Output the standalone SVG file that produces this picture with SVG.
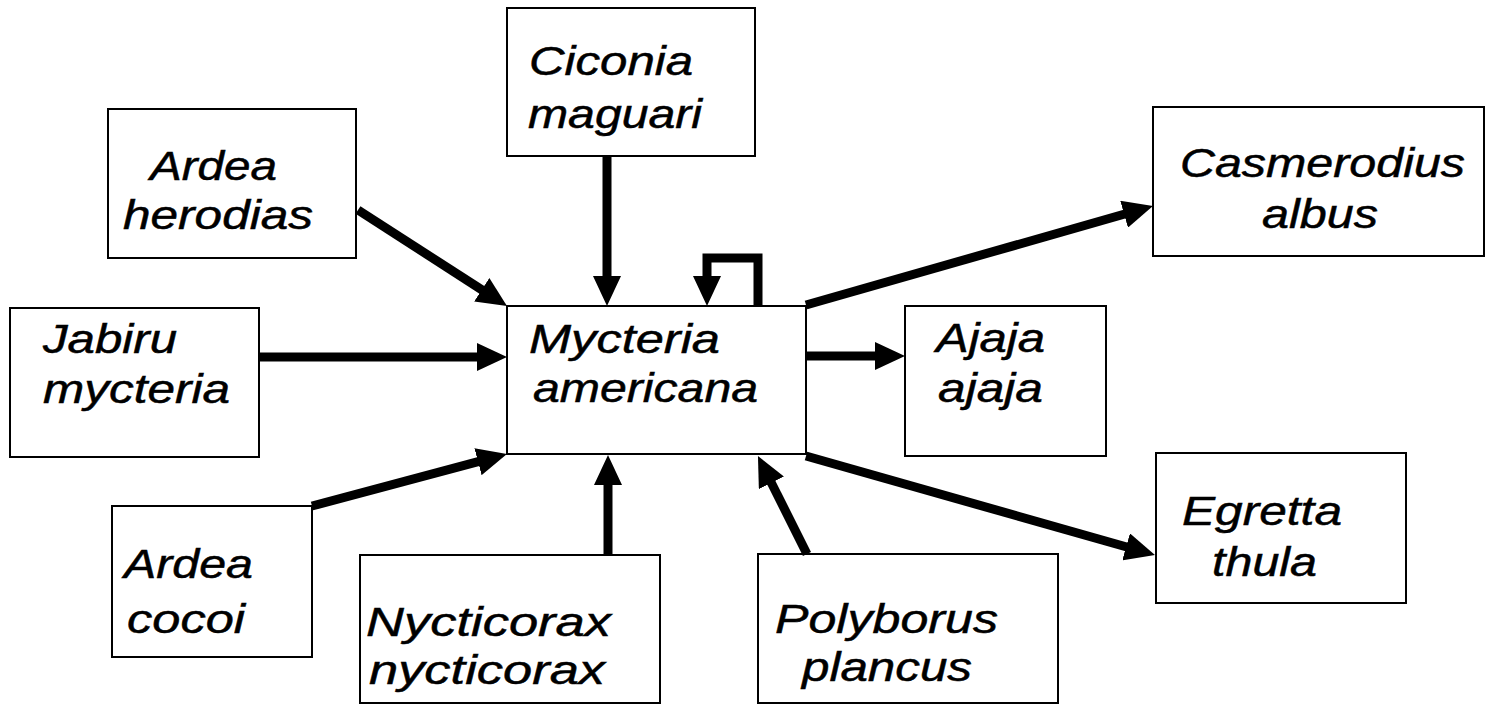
<svg xmlns="http://www.w3.org/2000/svg" width="1486" height="705" viewBox="0 0 1486 705">
<style>
.box{fill:#fff;stroke:#000;stroke-width:2}
.lbl{font-family:"Liberation Sans",Arial,sans-serif;font-style:italic;font-size:41px;fill:#000;stroke:#000;stroke-width:0.5}
.edge{fill:none;stroke:#000;stroke-width:9;stroke-linecap:butt;stroke-linejoin:miter}
</style>
<defs>
<marker id="ah" viewBox="0 0 30 28" refX="8" refY="14" markerWidth="30" markerHeight="28" markerUnits="userSpaceOnUse" orient="auto">
<path d="M0,0 L30,14 L0,28 z" fill="#000"/>
</marker>
</defs>
<rect width="1486" height="705" fill="#fff"/>
<g id="ciconia"><rect class="box" x="507" y="8" width="248" height="148"/>
<text class="lbl" x="529" y="75" textLength="164" lengthAdjust="spacingAndGlyphs">Ciconia</text>
<text class="lbl" x="528" y="128" textLength="174" lengthAdjust="spacingAndGlyphs">maguari</text></g>
<g id="ardea-herodias"><rect class="box" x="108" y="109" width="248" height="149"/>
<text class="lbl" x="150" y="180" textLength="127" lengthAdjust="spacingAndGlyphs">Ardea</text>
<text class="lbl" x="123" y="229" textLength="190" lengthAdjust="spacingAndGlyphs">herodias</text></g>
<g id="jabiru"><rect class="box" x="10" y="308" width="249" height="149"/>
<text class="lbl" x="43" y="353" textLength="134" lengthAdjust="spacingAndGlyphs">Jabiru</text>
<text class="lbl" x="43" y="403" textLength="187" lengthAdjust="spacingAndGlyphs">mycteria</text></g>
<g id="mycteria"><rect class="box" x="507" y="306" width="299" height="148"/>
<text class="lbl" x="529" y="353" textLength="191" lengthAdjust="spacingAndGlyphs">Mycteria</text>
<text class="lbl" x="533" y="402" textLength="225" lengthAdjust="spacingAndGlyphs">americana</text></g>
<g id="casmerodius"><rect class="box" x="1153" y="107" width="331" height="149"/>
<text class="lbl" x="1180" y="177" textLength="285" lengthAdjust="spacingAndGlyphs">Casmerodius</text>
<text class="lbl" x="1262" y="228" textLength="116" lengthAdjust="spacingAndGlyphs">albus</text></g>
<g id="ajaja"><rect class="box" x="905" y="306" width="201" height="150"/>
<text class="lbl" x="936" y="352" textLength="109" lengthAdjust="spacingAndGlyphs">Ajaja</text>
<text class="lbl" x="938" y="402" textLength="105" lengthAdjust="spacingAndGlyphs">ajaja</text></g>
<g id="egretta"><rect class="box" x="1156" y="453" width="250" height="150"/>
<text class="lbl" x="1182" y="525" textLength="160" lengthAdjust="spacingAndGlyphs">Egretta</text>
<text class="lbl" x="1212" y="576" textLength="105" lengthAdjust="spacingAndGlyphs">thula</text></g>
<g id="ardea-cocoi"><rect class="box" x="112" y="506" width="200" height="151"/>
<text class="lbl" x="124" y="578" textLength="129" lengthAdjust="spacingAndGlyphs">Ardea</text>
<text class="lbl" x="127" y="633" textLength="118" lengthAdjust="spacingAndGlyphs">cocoi</text></g>
<g id="nycticorax"><rect class="box" x="360" y="555" width="300" height="148"/>
<text class="lbl" x="366" y="636" textLength="245" lengthAdjust="spacingAndGlyphs">Nycticorax</text>
<text class="lbl" x="369" y="684" textLength="236" lengthAdjust="spacingAndGlyphs">nycticorax</text></g>
<g id="polyborus"><rect class="box" x="758" y="554" width="300" height="149"/>
<text class="lbl" x="775" y="633" textLength="223" lengthAdjust="spacingAndGlyphs">Polyborus</text>
<text class="lbl" x="802" y="681" textLength="170" lengthAdjust="spacingAndGlyphs">plancus</text></g>
<g id="connectors">
<path class="edge" d="M607,156 V284" marker-end="url(#ah)"/>
<path class="edge" d="M758,306 V258 H707 V284" marker-end="url(#ah)"/>
<path class="edge" d="M358,210 L488.5,294.1" marker-end="url(#ah)"/>
<path class="edge" d="M259,357 H485" marker-end="url(#ah)"/>
<path class="edge" d="M312,506 L485.7,459.6" marker-end="url(#ah)"/>
<path class="edge" stroke-width="8" d="M608,555 V477" marker-end="url(#ah)"/>
<path class="edge" stroke-width="8" d="M807,554 L767.8,475.7" marker-end="url(#ah)"/>
<path class="edge" d="M806,456 L1133.8,549" marker-end="url(#ah)"/>
<path class="edge" d="M806,305 L1131.8,212" marker-end="url(#ah)"/>
<path class="edge" d="M806,356 H883" marker-end="url(#ah)"/>
</g>
</svg>
